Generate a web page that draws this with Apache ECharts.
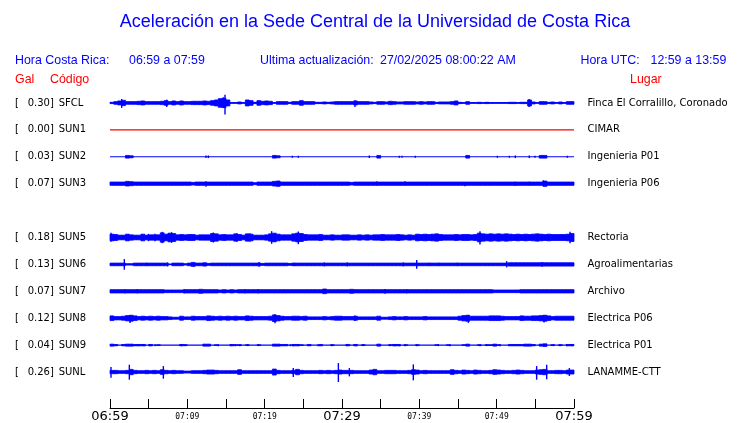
<!DOCTYPE html>
<html><head><meta charset="utf-8">
<script src="https://cdn.jsdelivr.net/npm/echarts/dist/echarts.min.js"></script>
<style>html,body{margin:0;padding:0;background:#fff}#c{width:740px;height:423px}</style>
</head><body><div id="c"></div>
<script>
// ---- rows (top to bottom) ----
const rowCodes = ['SFCL','SUN1','SUN2','SUN3','SUN4','SUN5','SUN6','SUN7','SUN8','SUN9','SUNL'];
const galValues = [0.30, 0.00, 0.03, 0.07, null, 0.18, 0.13, 0.07, 0.12, 0.04, 0.26];
const places = ['Finca El Corralillo, Coronado','CIMAR','Ingenieria P01','Ingenieria P06','','Rectoria','Agroalimentarias','Archivo','Electrica P06','Electrica P01','LANAMME-CTT'];
// x-axis labels every 10 minutes from 06:59
const tickLabels = ['06:59','07:09','07:19','07:29','07:39','07:49','07:59'];

// ---- trace envelopes: half-amplitude per 0.5-minute bin (display counts, 81 counts between traces) ----
const ampSFCL = [2,4,6,8,4,4,4,5,6,4, 4,4,4,5,7,4,6,4,6,4, 4,5,5,5,6,5,7,9,13,14, 9,1,1,3,1,9,7,2,7,5, 6,5,1,4,4,4,2,4,4,7, 4,4,4,2,2,3,2,3,4,4,
                 4,4,4,6,4,4,4,3,2,4, 4,3,5,4,3,3,4,4,4,3, 4,3,4,4,2,3,3,3,4,6, 2,1,4,1,1,2,1,2,1,1, 1,1,1,2,2,1,2,2,9,3, 1,4,4,2,3,1,3,1,4,4];
const ampSUN1 = [0,0,0,0,0,0,0,0,0,0, 0,0,0,0,0,0,0,0,0,0, 0,0,0,0,0,0,0,0,0,0, 0,0,0,0,0,0,0,0,0,0, 0,0,0,0,0,0,0,0,0,0, 0,0,0,0,0,0,0,0,0,0,
                 0,0,0,0,0,0,0,0,0,0, 0,0,0,0,0,0,0,0,0,0, 0,0,0,0,0,0,0,0,0,0, 0,0,0,0,0,0,0,0,0,0, 0,0,0,0,0,0,0,0,0,0, 0,0,0,0,0,0,0,0,0,0];
const ampSUN2 = [0,0,0,0,4,3,0,0,0,0, 0,0,0,0,0,0,0,0,0,0, 0,0,0,0,0,0,0,0,0,0, 0,0,0,0,0,0,0,0,0,0, 0,0,4,3,0,0,0,0,0,0, 0,0,0,0,0,0,0,0,0,0,
                 0,0,0,0,0,0,0,0,0,4, 0,0,0,0,0,0,0,0,0,0, 0,0,0,0,0,0,0,0,0,0, 0,0,4,0,0,0,0,0,0,0, 0,0,0,0,0,0,0,0,0,0, 0,4,4,0,0,0,0,0,0,0];
const ampSUN3 = [5,5,5,5,7,6,5,5,5,5, 5,5,5,5,5,5,5,5,5,5, 5,4,5,5,5,5,5,5,5,5, 5,5,5,5,5,5,5,3,5,5, 5,5,7,8,5,5,5,5,5,5, 5,5,5,5,5,5,5,5,5,5,
                 5,5,4,5,5,5,5,5,5,5, 5,5,5,5,5,5,5,5,5,5, 5,5,5,5,5,5,5,5,5,5, 5,5,5,5,5,5,5,5,5,5, 5,5,5,5,5,5,5,5,5,5, 5,5,8,5,5,5,5,5,5,5];
const ampSUN5 = [10,9,7,7,10,8,7,7,10,7, 8,8,8,14,10,13,12,8,9,8, 9,9,7,8,8,8,12,11,8,9, 8,8,11,9,7,11,10,7,7,7, 8,11,13,10,8,8,8,11,13,12, 9,8,8,8,9,7,7,8,7,7,
                 8,8,7,7,8,7,8,7,8,8, 9,8,8,8,9,8,7,8,7,10, 9,10,9,10,11,9,8,8,8,9, 8,9,9,8,9,13,11,10,11,10, 11,10,11,10,9,10,9,10,9,10, 11,10,9,10,9,9,9,9,10,12];
const ampSUN6 = [4,4,4,4,2,2,4,4,4,4, 4,4,4,4,4,1,4,4,4,2, 4,6,4,4,5,3,4,4,4,4, 4,4,4,4,4,4,4,4,4,3, 4,4,4,4,4,4,3,4,4,4, 4,4,4,4,4,4,4,4,4,4,
                 4,4,4,4,4,4,4,4,4,4, 4,4,4,4,4,4,4,4,4,4, 4,4,4,4,4,4,4,4,4,4, 4,4,4,4,4,4,4,4,4,4, 4,4,4,5,5,5,5,5,5,5, 5,5,5,5,5,5,5,5,5,5];
const ampSUN7 = [5,5,5,5,5,5,5,5,5,5, 5,5,5,5,4,4,4,4,4,5, 5,5,5,6,5,5,5,5,4,5, 4,5,4,5,5,5,5,5,5,5, 5,5,5,5,5,5,5,5,5,5, 5,5,5,5,5,7,5,5,5,5,
                 5,5,6,5,5,5,5,5,5,5, 5,5,5,5,5,5,5,5,5,5, 5,5,5,5,5,5,5,5,5,5, 5,5,5,5,5,5,5,5,5,4, 4,4,4,4,4,4,5,5,5,5, 5,5,5,5,5,5,5,5,5,5];
const ampSUN8 = [7,5,5,6,8,9,7,5,6,5, 6,5,6,5,5,4,3,3,6,4, 4,6,5,5,5,7,6,5,6,5, 6,5,6,5,5,7,6,5,5,5, 5,6,10,8,6,5,5,6,6,5, 6,4,4,4,4,5,4,5,6,6,
                 5,5,5,6,4,4,4,4,4,6, 3,3,4,5,4,4,5,4,4,4, 4,5,4,4,4,4,4,4,4,4, 6,8,9,6,6,6,6,6,7,7, 7,6,5,5,5,5,7,6,6,7, 7,8,9,7,5,6,6,6,6,6];
const ampSUN9 = [3,2,0,2,3,3,2,2,2,0, 2,0,1,0,0,0,0,0,2,1, 0,0,0,0,3,3,0,1,0,0, 0,2,1,1,0,1,0,0,1,0, 0,0,3,3,2,2,0,2,2,1, 0,2,0,0,2,0,0,1,0,0,
                 0,2,0,2,0,1,0,0,0,3, 0,0,1,2,2,0,1,0,0,1, 0,0,0,0,1,0,0,1,0,0, 0,1,3,0,0,1,0,1,1,3, 1,0,0,2,2,2,2,3,3,2, 0,3,4,0,1,0,1,0,2,2];
const ampSUNL = [5,5,4,4,5,8,5,4,4,5, 4,5,4,7,5,4,5,4,4,3, 3,4,4,4,5,6,6,5,4,4, 4,4,4,7,4,4,4,4,4,4, 4,4,9,5,4,4,4,5,8,5, 4,4,4,4,5,4,5,4,5,6,
                 5,5,5,4,4,4,4,6,8,4, 4,5,5,5,4,4,4,5,7,6, 4,5,4,4,4,4,4,4,7,5, 4,6,5,4,6,5,4,4,5,7, 6,5,4,4,5,6,5,4,4,4, 6,7,8,4,4,5,5,4,6,6];

// ---- isolated peaks: [minute, up, down] (display counts) ----
const spikesSFCL = [[1.51,12,15],[7.33,10,12],[14.66,17,15],[14.87,25,35],[31.68,8,12],[54.2,12,12]];
const spikesSUN1 = [];
const spikesSUN2 = [[12.41,4,4],[12.72,4,4],[23.58,3,3],[24.35,3,3],[33.53,4,4],[37.41,3,3],[37.76,3,3],[39.48,3,3],[50.09,3,3],[51.64,3,3],[52.41,4,4],[54.22,4,4],[54.96,3,3],[59.14,3,3]];
const spikesSUN3 = [[12.41,7,9],[34.48,7,5],[38.15,7,5],[45.9,4,8],[52.37,6,7],[54.22,6,5],[56.03,10,8]];
const spikesSUN5 = [[0.13,14,13],[4.96,11,11],[5.82,11,11],[6.77,17,17],[7.97,16,16],[13.36,15,15],[16.4,13,13],[18.1,13,13],[20.9,19,19],[24.35,18,20],[47.84,19,21],[59.48,17,17]];
const spikesSUN6 = [[1.85,16,16],[4.74,5,5],[7.46,6,6],[19.27,7,7],[23.84,5,5],[27.72,6,6],[30.69,6,6],[37.93,6,6],[39.66,13,13],[41.29,5,5],[42.5,5,5],[44.91,5,5],[51.29,10,9],[55.86,7,7]];
const spikesSUN7 = [[1.94,6,6],[3.53,6,6],[9.61,6,6],[17.46,6,6],[19.18,6,6],[35.56,7,7],[38.36,6,6]];
const spikesSUN8 = [[2.59,10,14],[21.34,12,15],[31.68,8,8],[46.34,10,14],[56.12,10,13]];
const spikesSUN9 = [[3.66,3,3],[4.31,3,3],[4.53,3,3],[5.17,3,3],[5.82,3,3],[9.27,3,3],[9.7,3,3],[14.0,3,3],[15.7,3,3],[16.2,3,3],[16.8,3,3],[17.8,3,3],[19.2,3,3],[23.3,3,3],[23.7,3,3],[24.35,3,3],[26.9,3,3],[28.7,3,3],
                    [30.6,3,3],[31.8,3,3],[32.76,3,3],[36.2,3,3],[36.85,3,3],[37.5,3,3],[38.15,3,3],[39.66,3,3],[42.46,3,3],[43.97,3,3],[47.84,3,3],[48.7,3,3],[50.43,3,3],[57.33,3,3],[58.19,3,3],[59.05,3,3],[59.7,3,3]];
const spikesSUNL = [[0.13,15,17],[2.5,22,23],[6.9,18,20],[23.7,12,15],[29.53,27,30],[30.95,12,13],[39.22,23,25],[55.17,18,23],[56.47,22,22],[59.4,12,12]];

// ---- assembly ----
const ampByRow = [ampSFCL, ampSUN1, ampSUN2, ampSUN3, null, ampSUN5, ampSUN6, ampSUN7, ampSUN8, ampSUN9, ampSUNL];
const spikesByRow = [spikesSFCL, spikesSUN1, spikesSUN2, spikesSUN3, null, spikesSUN5, spikesSUN6, spikesSUN7, spikesSUN8, spikesSUN9, spikesSUNL];
const S = 81;        // counts between trace baselines
const BIN = 0.5;     // minutes per envelope sample
const SPAN = 60;     // minutes shown
const BLUE = '#0000ff', RED = '#ff0000';

const series = [];
ampByRow.forEach((amp, r) => {
  if (!amp) return;
  const color = galValues[r] === 0 ? RED : BLUE;
  const c = r * S;
  series.push({
    type: 'line', xAxisIndex: 0, yAxisIndex: 2, symbol: 'none', silent: true,
    lineStyle: { color, width: 1.2 }, data: [[0, c], [SPAN, c]]
  });
  series.push({
    type: 'custom', xAxisIndex: 0, yAxisIndex: 2, silent: true,
    encode: { x: 0, y: 1 },
    data: amp.map((a, i) => [i * BIN, c, a]),
    renderItem: (params, api) => {
      const t = api.value(0), cc = api.value(1), a = api.value(2);
      if (a <= 0) return null;
      const p1 = api.coord([t, cc - a]);
      const p2 = api.coord([t + BIN, cc + a]);
      return { type: 'rect', shape: { x: p1[0], y: Math.min(p1[1], p2[1]), width: p2[0] - p1[0], height: Math.abs(p2[1] - p1[1]) },
               style: { fill: color, stroke: color, lineWidth: 0.8 } };
    }
  });
  const sp = spikesByRow[r];
  if (sp && sp.length) {
    series.push({
      type: 'custom', xAxisIndex: 0, yAxisIndex: 2, silent: true,
      encode: { x: 0, y: 1 },
      data: sp.map(s => [s[0], c, s[1], s[2]]),
      renderItem: (params, api) => {
        const t = api.value(0), cc = api.value(1);
        const pt = api.coord([t, cc - api.value(2)]);
        const pb = api.coord([t, cc + api.value(3)]);
        return { type: 'line', shape: { x1: pt[0], y1: pt[1], x2: pb[0], y2: pb[1] }, style: { stroke: color, lineWidth: 1.4 } };
      }
    });
  }
});

const hdr = (text, x, y, color, size, align) => ({
  type: 'text', x, y, silent: true,
  style: { text, fill: color, font: size + 'px "Liberation Sans", Arial, sans-serif', textAlign: align || 'left', textVerticalAlign: 'middle' }
});

const chart = echarts.init(document.getElementById('c'), null, { renderer: 'canvas' });
chart.setOption({
  animation: false,
  backgroundColor: '#fff',
  graphic: [
    hdr('Aceleración en la Sede Central de la Universidad de Costa Rica', 375, 22.5, BLUE, 18, 'center'),
    hdr('Hora Costa Rica:', 15, 61, BLUE, 12.4),
    hdr('06:59 a 07:59', 129, 61, BLUE, 12.4),
    hdr('Ultima actualización:', 260, 61, BLUE, 12.4),
    hdr('27/02/2025 08:00:22 AM', 380, 61, BLUE, 12.4),
    hdr('Hora UTC:', 580.5, 61, BLUE, 12.4),
    hdr('12:59 a 13:59', 650.5, 61, BLUE, 12.4),
    hdr('Gal', 15, 80, RED, 12.4),
    hdr('Código', 50, 80, RED, 12.4),
    hdr('Lugar', 630, 80, RED, 12.4)
  ],
  grid: { left: 110, right: 166, top: 89.5, bottom: 36.5, containLabel: false },
  xAxis: {
    type: 'value', min: 0, max: SPAN, interval: 5, offset: 22.5,
    axisLine: { show: true, onZero: false, lineStyle: { color: '#000', width: 1 } },
    axisTick: { show: true, inside: true, length: 9, lineStyle: { color: '#000', width: 1 } },
    splitLine: { show: false },
    axisLabel: {
      margin: 8.5, verticalAlign: 'middle',
      formatter: v => {
        if (v % 10 !== 0) return '';
        const lab = tickLabels[v / 10];
        return v % 30 === 0 ? '{big|' + lab + '}' : '{small|' + lab + '}';
      },
      rich: {
        big: { fontFamily: 'DejaVu Sans', fontSize: 13, color: '#000' },
        small: { fontFamily: 'DejaVu Sans Mono', fontSize: 8, color: '#000' }
      }
    }
  },
  yAxis: [
    {
      type: 'category', position: 'left', inverse: true, data: rowCodes, boundaryGap: true,
      axisLine: { show: false }, axisTick: { show: false }, splitLine: { show: false },
      axisLabel: {
        interval: 0, align: 'left', margin: 95,
        formatter: (v, i) => galValues[i] == null ? '' : '{b|[}{v|' + galValues[i].toFixed(2) + ']}{c|' + v + '}',
        rich: {
          b: { width: 12.7, fontFamily: 'DejaVu Sans', fontSize: 10, color: '#000' },
          v: { width: 31, fontFamily: 'DejaVu Sans', fontSize: 10, color: '#000' },
          c: { fontFamily: 'DejaVu Sans', fontSize: 10, color: '#000' }
        }
      }
    },
    {
      type: 'category', position: 'right', inverse: true, data: places, boundaryGap: true,
      axisLine: { show: false }, axisTick: { show: false }, splitLine: { show: false },
      axisLabel: { interval: 0, align: 'left', margin: 13.5, fontFamily: 'DejaVu Sans', fontSize: 10, color: '#000' }
    },
    { type: 'value', show: false, inverse: true, min: -S / 2, max: (rowCodes.length - 1) * S + S / 2 }
  ],
  series
});
</script></body></html>
